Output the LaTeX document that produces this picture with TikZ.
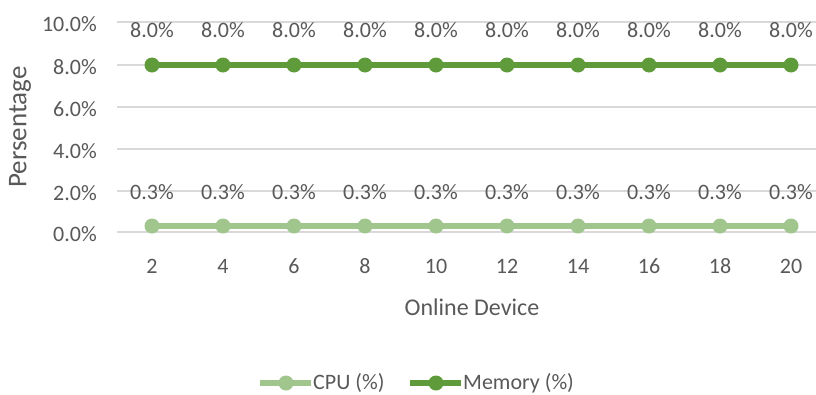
\documentclass[tikz,border=0pt]{standalone}
\usepackage{fontspec}
\setmainfont{Carlito}
\definecolor{txt}{HTML}{595959}
\definecolor{gridc}{HTML}{D9D9D9}
\definecolor{memc}{HTML}{5F9A3B}
\definecolor{cpuc}{HTML}{A1C68D}
\tikzset{
  lbl/.style={text=txt, font=\fontsize{22}{25}\selectfont, inner sep=0pt},
  axtitle/.style={text=txt, font=\fontsize{24}{28}\selectfont, inner sep=0pt},
  gridline/.style={draw=gridc, line width=2pt},
  memline/.style={draw=memc, line width=6pt},
  cpuline/.style={draw=cpuc, line width=6pt},
  memdot/.style={circle, fill=memc, minimum size=15pt, inner sep=0pt},
  cpudot/.style={circle, fill=cpuc, minimum size=15pt, inner sep=0pt},
}
\begin{document}
\begin{tikzpicture}[x=1pt, y=-1pt]
\useasboundingbox (0,0) rectangle (816,394);
\fill[white] (0,0) rectangle (816,394);

% horizontal gridlines and y tick labels
\foreach \v/\py in {10/22, 8/65, 6/107, 4/149, 2/191, 0/232} {
  \draw[gridline] (117,\py) -- (816,\py);
  \node[lbl, anchor=east] (yl\v) at (97,\py+2) {\v.0\%};
}

% axis titles
\node[axtitle, font=\fontsize{27}{30}\selectfont, rotate=90] (ytitle) at (20,127) {Persentage};
\node[axtitle] (xtitle) at (472,307) {Online Device};

% series
\foreach \i/\n/\px in {1/2/152, 2/4/223, 3/6/294, 4/8/365, 5/10/436, 6/12/507, 7/14/578, 8/16/649, 9/18/720, 10/20/791} {
  \coordinate (m\i) at (\px,65);
  \coordinate (c\i) at (\px,226);
  \node[lbl] (xt\i) at (\px,266) {\n};
  \node[lbl] (ml\i) at (\px,30) {8.0\%};
  \node[lbl] (cl\i) at (\px,192) {0.3\%};
}
\draw[memline] (m1) -- (m10);
\draw[cpuline] (c1) -- (c10);
\foreach \i in {1,...,10} {
  \node[memdot] at (m\i) {};
  \node[cpudot] at (c\i) {};
}

% legend
\coordinate (lc1) at (260,383);
\coordinate (lc2) at (311,383);
\draw[cpuline] (lc1) -- (lc2);
\node[cpudot] (lcd) at (286,383) {};
\node[lbl, anchor=west] (lct) at (313,383) {CPU (\%)};
\coordinate (lm1) at (410,383);
\coordinate (lm2) at (461,383);
\draw[memline] (lm1) -- (lm2);
\node[memdot] (lmd) at (436,383) {};
\node[lbl, anchor=west] (lmt) at (463,383) {Memory (\%)};
\end{tikzpicture}
\end{document}
